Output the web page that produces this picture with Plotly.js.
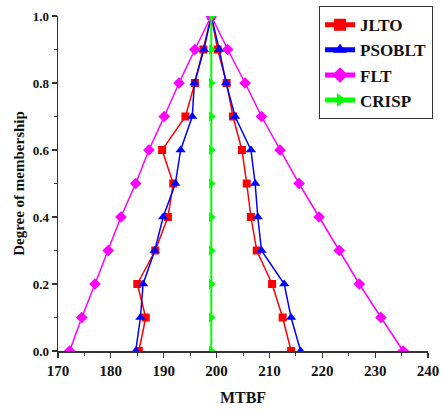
<!DOCTYPE html>
<html>
<head>
<meta charset="utf-8">
<script src="https://cdn.plot.ly/plotly-3.0.1.min.js"></script>
<style>html,body{margin:0;padding:0;background:#fff;}#chart{width:445px;height:412px;}</style>
</head>
<body>
<div id="chart"></div>
<script>
// Membership levels: left branch rising 0.0 -> 1.0, then right branch falling 0.9 -> 0.0
const membership = [0.0,0.1,0.2,0.3,0.4,0.5,0.6,0.7,0.8,0.9,1.0,0.9,0.8,0.7,0.6,0.5,0.4,0.3,0.2,0.1,0.0];

const jltoMTBF   = [185.3,186.6,185.0,188.4,190.8,191.8,189.7,194.1,195.9,197.5,199.0,200.2,201.9,203.1,204.8,205.7,206.5,207.6,210.5,212.5,214.1];
const psobltMTBF = [184.7,185.6,186.1,188.3,189.9,192.2,193.2,195.4,195.8,197.6,199.0,200.5,201.8,203.5,206.5,207.3,207.8,208.5,212.8,214.1,215.9];
const fltMTBF    = [172.2,174.5,177.0,179.5,181.9,184.7,187.2,190.1,192.9,195.9,199.0,202.1,205.4,208.5,212.0,215.6,219.4,223.2,227.0,231.1,235.3];
const crispMemb  = [0.0,0.1,0.2,0.3,0.4,0.5,0.6,0.7,0.8,0.9,1.0];
const crispMTBF  = [199.0,199.0,199.0,199.0,199.0,199.0,199.0,199.0,199.0,199.0,199.0];

const seriesNames = ["JLTO","PSOBLT","FLT","CRISP"];
const xTitle = "MTBF";
const yTitle = "Degree of membership";

const FONT = "Liberation Serif, Times New Roman, serif";

const traces = [
  {x: jltoMTBF, y: membership, name: seriesNames[0], mode: "lines+markers",
   line: {color: "#ff0000", width: 1.5}, marker: {symbol: "square", size: 8, color: "#ff0000"}},
  {x: psobltMTBF, y: membership, name: seriesNames[1], mode: "lines+markers",
   line: {color: "#0000ff", width: 1.5}, marker: {symbol: "triangle-up", size: 9, color: "#0000ff"}},
  {x: fltMTBF, y: membership, name: seriesNames[2], mode: "lines+markers",
   line: {color: "#ff00ff", width: 1.5}, marker: {symbol: "diamond", size: 9, color: "#ff00ff"}},
  {x: crispMTBF, y: crispMemb, name: seriesNames[3], mode: "lines+markers",
   line: {color: "#00ff00", width: 2}, marker: {symbol: "triangle-right", size: 9, color: "#00ff00"}}
];

const axisCommon = {
  showgrid: false, zeroline: false, showline: true, linecolor: "#333", linewidth: 1.5,
  ticks: "outside", ticklen: 5, tickwidth: 1.2, tickcolor: "#333",
  tickfont: {family: FONT, size: 14, color: "#111", weight: "bold"},
  mirror: false
};

const layout = {
  width: 445, height: 412,
  margin: {l: 58, r: 17, t: 6, b: 61},
  paper_bgcolor: "#fff", plot_bgcolor: "#fff",
  font: {family: FONT, color: "#111"},
  xaxis: Object.assign({}, axisCommon, {
    range: [170, 240], dtick: 10, tick0: 170,
    tickfont: {family: FONT, size: 15, color: "#111", weight: "bold"},
    minor: {dtick: 5, ticks: "outside", ticklen: 3, tickcolor: "#333", tickwidth: 1},
    title: {text: xTitle, font: {family: FONT, size: 16, color: "#111", weight: "bold"}, standoff: 14}
  }),
  yaxis: Object.assign({}, axisCommon, {
    range: [0, 1], dtick: 0.2, tick0: 0, tickformat: ".1f",
    domain: [0, 0.971],
    tickfont: {family: FONT, size: 13, color: "#111", weight: "bold"},
    minor: {dtick: 0.1, ticks: "outside", ticklen: 3, tickcolor: "#333", tickwidth: 1},
    title: {text: yTitle, font: {family: FONT, size: 15, color: "#111", weight: "bold"}, standoff: 4}
  }),
  showlegend: true,
  legend: {x: 0.705, y: 1.0, xanchor: "left", yanchor: "top",
    bgcolor: "#fff", bordercolor: "#333", borderwidth: 1.2,
    font: {family: FONT, size: 17, color: "#111", weight: "bold"},
    tracegroupgap: 0, itemsizing: "constant"}
};

Plotly.newPlot("chart", traces, layout, {displayModeBar: false, staticPlot: true});
</script>
</body>
</html>
